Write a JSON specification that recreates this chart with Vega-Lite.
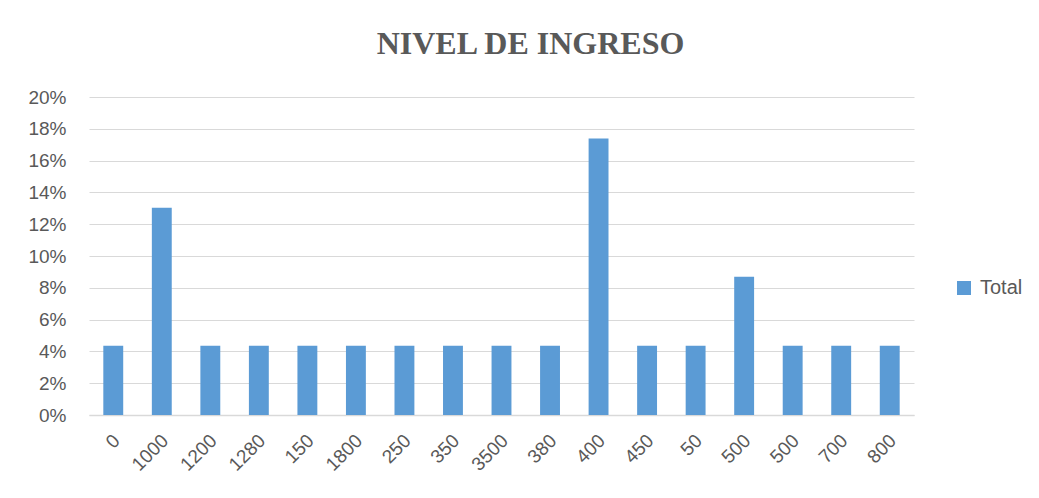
{
  "$schema": "https://vega.github.io/schema/vega-lite/v6.json",
  "width": 825,
  "height": 318,
  "autosize": {"type": "none"},
  "padding": {"left": 89, "top": 97, "right": 125, "bottom": 83},
  "background": "white",
  "title": {
    "text": "NIVEL DE INGRESO",
    "font": "Liberation Serif",
    "fontSize": 32,
    "fontWeight": "bold",
    "color": "#595959",
    "anchor": "middle",
    "dx": 29,
    "offset": 27
  },
  "data": {
    "values": [
      {"nivel": "0", "pct": 0.0435},
      {"nivel": "1000", "pct": 0.1304},
      {"nivel": "1200", "pct": 0.0435},
      {"nivel": "1280", "pct": 0.0435},
      {"nivel": "150", "pct": 0.0435},
      {"nivel": "1800", "pct": 0.0435},
      {"nivel": "250", "pct": 0.0435},
      {"nivel": "350", "pct": 0.0435},
      {"nivel": "3500", "pct": 0.0435},
      {"nivel": "380", "pct": 0.0435},
      {"nivel": "400", "pct": 0.1739},
      {"nivel": "450", "pct": 0.0435},
      {"nivel": "50", "pct": 0.0435},
      {"nivel": "500", "pct": 0.087},
      {"nivel": "500 ", "pct": 0.0435},
      {"nivel": "700", "pct": 0.0435},
      {"nivel": "800", "pct": 0.0435}
    ]
  },
  "mark": {"type": "bar"},
  "encoding": {
    "x": {
      "field": "nivel",
      "type": "nominal",
      "sort": null,
      "title": null,
      "scale": {"paddingInner": 0.59, "paddingOuter": 0.295},
      "axis": {
        "labelAngle": -45,
        "labelFont": "Liberation Sans",
        "labelFontSize": 19,
        "labelColor": "#595959",
        "labelPadding": 16,
        "labelOffset": -3,
        "ticks": false,
        "domainColor": "#d9d9d9",
        "domainWidth": 1.5,
        "grid": false
      }
    },
    "y": {
      "field": "pct",
      "type": "quantitative",
      "title": null,
      "scale": {"domain": [0, 0.2], "nice": false},
      "axis": {
        "format": ".0%",
        "values": [0, 0.02, 0.04, 0.06, 0.08, 0.1, 0.12, 0.14, 0.16, 0.18, 0.2],
        "labelFont": "Liberation Sans",
        "labelFontSize": 19,
        "labelColor": "#595959",
        "labelPadding": 23,
        "ticks": false,
        "domain": false,
        "gridColor": "#d9d9d9",
        "gridWidth": 1
      }
    },
    "color": {
      "datum": "Total",
      "type": "nominal",
      "scale": {"range": ["#5b9bd5"]},
      "legend": {
        "title": null,
        "orient": "none",
        "legendX": 865,
        "legendY": 181,
        "symbolType": "square",
        "symbolSize": 196,
        "symbolStrokeWidth": 0,
        "labelFont": "Liberation Sans",
        "labelFontSize": 20,
        "labelColor": "#595959",
        "labelOffset": 6
      }
    }
  },
  "config": {"view": {"stroke": null}}
}
